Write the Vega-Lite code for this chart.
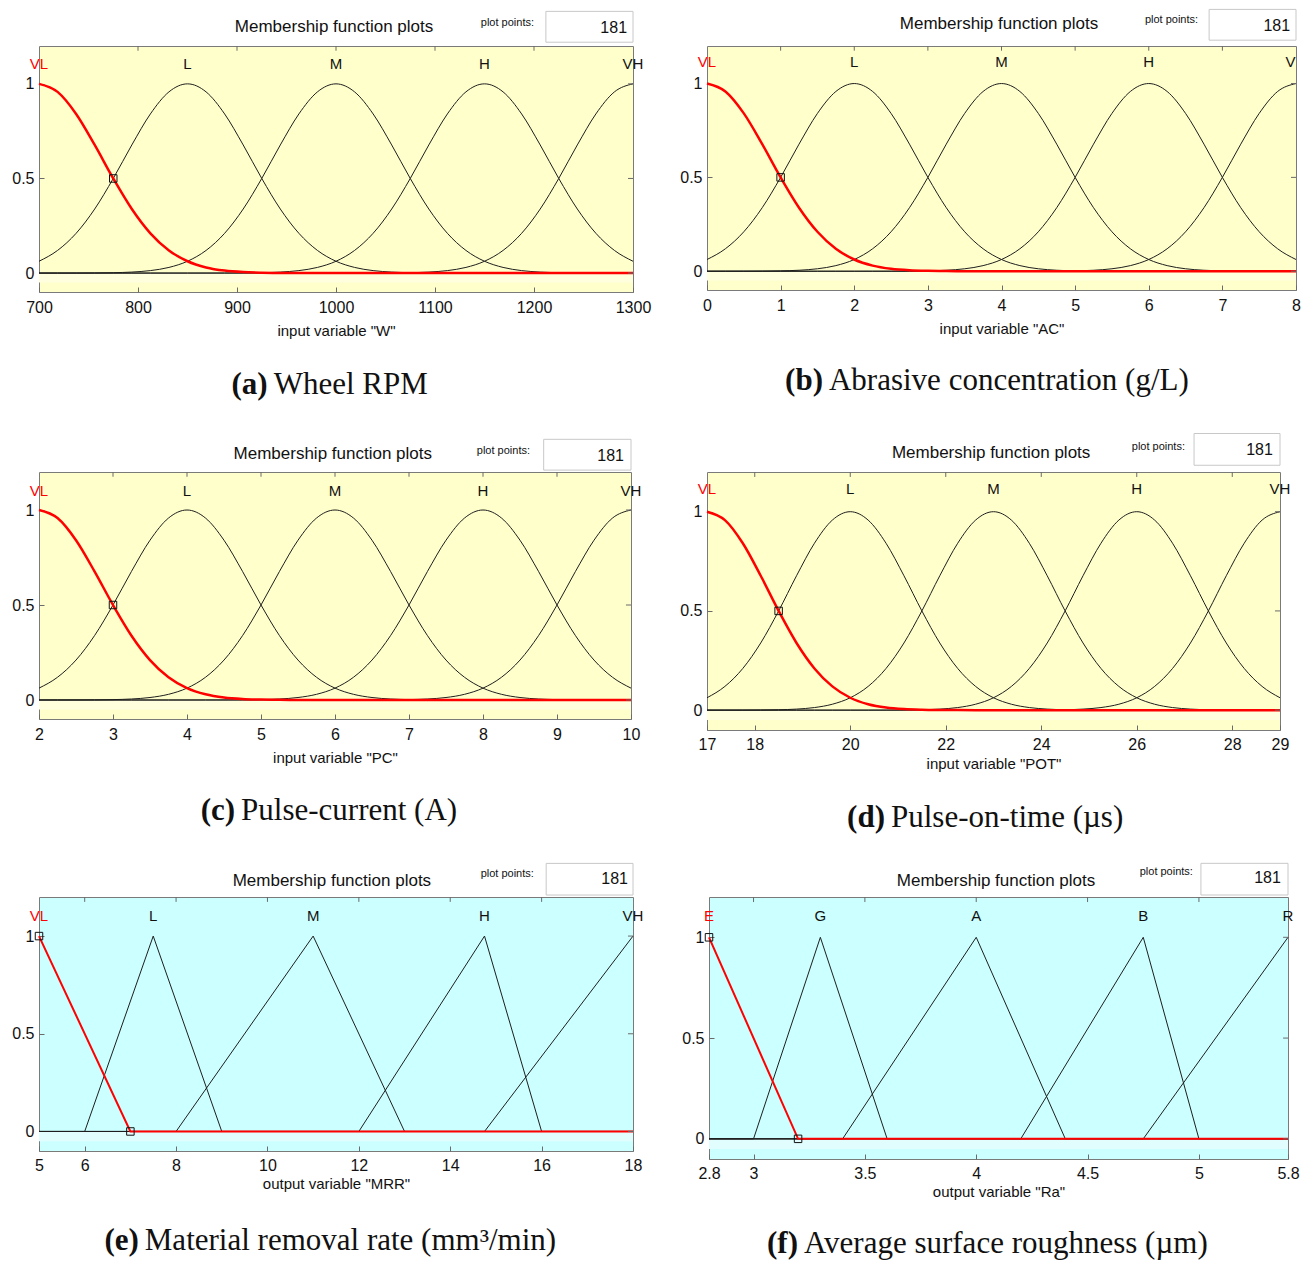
{
  "$schema": "https://vega.github.io/schema/vega-lite/v6.json",
  "padding": {"left": 11, "top": 8, "right": 0, "bottom": 0},
  "background": "#ffffff",
  "datasets": {
    "gauss": [
      {"xa":700,"xb":0,"xc":2,"xd":17,"m1":1,"m2":0.0625,"m3":0,"m4":0,"m5":0},
      {"xa":718.75,"xb":0.25,"xc":2.25,"xd":17.375,"m1":0.9576,"m2":0.1197,"m3":0.0001,"m4":0,"m5":0},
      {"xa":737.5,"xb":0.5,"xc":2.5,"xd":17.75,"m1":0.8409,"m2":0.2102,"m3":0.0002,"m4":0,"m5":0},
      {"xa":756.25,"xb":0.75,"xc":2.75,"xd":18.125,"m1":0.6771,"m2":0.3385,"m3":0.0007,"m4":0,"m5":0},
      {"xa":775,"xb":1,"xc":3,"xd":18.5,"m1":0.5,"m2":0.5,"m3":0.002,"m4":0,"m5":0},
      {"xa":793.75,"xb":1.25,"xc":3.25,"xd":18.875,"m1":0.3385,"m2":0.6771,"m3":0.0053,"m4":0,"m5":0},
      {"xa":812.5,"xb":1.5,"xc":3.5,"xd":19.25,"m1":0.2102,"m2":0.8409,"m3":0.0131,"m4":0,"m5":0},
      {"xa":831.25,"xb":1.75,"xc":3.75,"xd":19.625,"m1":0.1197,"m2":0.9576,"m3":0.0299,"m4":0,"m5":0},
      {"xa":850,"xb":2,"xc":4,"xd":20,"m1":0.0625,"m2":1,"m3":0.0625,"m4":0,"m5":0},
      {"xa":868.75,"xb":2.25,"xc":4.25,"xd":20.375,"m1":0.0299,"m2":0.9576,"m3":0.1197,"m4":0.0001,"m5":0},
      {"xa":887.5,"xb":2.5,"xc":4.5,"xd":20.75,"m1":0.0131,"m2":0.8409,"m3":0.2102,"m4":0.0002,"m5":0},
      {"xa":906.25,"xb":2.75,"xc":4.75,"xd":21.125,"m1":0.0053,"m2":0.6771,"m3":0.3385,"m4":0.0007,"m5":0},
      {"xa":925,"xb":3,"xc":5,"xd":21.5,"m1":0.002,"m2":0.5,"m3":0.5,"m4":0.002,"m5":0},
      {"xa":943.75,"xb":3.25,"xc":5.25,"xd":21.875,"m1":0.0007,"m2":0.3385,"m3":0.6771,"m4":0.0053,"m5":0},
      {"xa":962.5,"xb":3.5,"xc":5.5,"xd":22.25,"m1":0.0002,"m2":0.2102,"m3":0.8409,"m4":0.0131,"m5":0},
      {"xa":981.25,"xb":3.75,"xc":5.75,"xd":22.625,"m1":0.0001,"m2":0.1197,"m3":0.9576,"m4":0.0299,"m5":0},
      {"xa":1000,"xb":4,"xc":6,"xd":23,"m1":0,"m2":0.0625,"m3":1,"m4":0.0625,"m5":0},
      {"xa":1018.75,"xb":4.25,"xc":6.25,"xd":23.375,"m1":0,"m2":0.0299,"m3":0.9576,"m4":0.1197,"m5":0.0001},
      {"xa":1037.5,"xb":4.5,"xc":6.5,"xd":23.75,"m1":0,"m2":0.0131,"m3":0.8409,"m4":0.2102,"m5":0.0002},
      {"xa":1056.25,"xb":4.75,"xc":6.75,"xd":24.125,"m1":0,"m2":0.0053,"m3":0.6771,"m4":0.3385,"m5":0.0007},
      {"xa":1075,"xb":5,"xc":7,"xd":24.5,"m1":0,"m2":0.002,"m3":0.5,"m4":0.5,"m5":0.002},
      {"xa":1093.75,"xb":5.25,"xc":7.25,"xd":24.875,"m1":0,"m2":0.0007,"m3":0.3385,"m4":0.6771,"m5":0.0053},
      {"xa":1112.5,"xb":5.5,"xc":7.5,"xd":25.25,"m1":0,"m2":0.0002,"m3":0.2102,"m4":0.8409,"m5":0.0131},
      {"xa":1131.25,"xb":5.75,"xc":7.75,"xd":25.625,"m1":0,"m2":0.0001,"m3":0.1197,"m4":0.9576,"m5":0.0299},
      {"xa":1150,"xb":6,"xc":8,"xd":26,"m1":0,"m2":0,"m3":0.0625,"m4":1,"m5":0.0625},
      {"xa":1168.75,"xb":6.25,"xc":8.25,"xd":26.375,"m1":0,"m2":0,"m3":0.0299,"m4":0.9576,"m5":0.1197},
      {"xa":1187.5,"xb":6.5,"xc":8.5,"xd":26.75,"m1":0,"m2":0,"m3":0.0131,"m4":0.8409,"m5":0.2102},
      {"xa":1206.25,"xb":6.75,"xc":8.75,"xd":27.125,"m1":0,"m2":0,"m3":0.0053,"m4":0.6771,"m5":0.3385},
      {"xa":1225,"xb":7,"xc":9,"xd":27.5,"m1":0,"m2":0,"m3":0.002,"m4":0.5,"m5":0.5},
      {"xa":1243.75,"xb":7.25,"xc":9.25,"xd":27.875,"m1":0,"m2":0,"m3":0.0007,"m4":0.3385,"m5":0.6771},
      {"xa":1262.5,"xb":7.5,"xc":9.5,"xd":28.25,"m1":0,"m2":0,"m3":0.0002,"m4":0.2102,"m5":0.8409},
      {"xa":1281.25,"xb":7.75,"xc":9.75,"xd":28.625,"m1":0,"m2":0,"m3":0.0001,"m4":0.1197,"m5":0.9576},
      {"xa":1300,"xb":8,"xc":10,"xd":29,"m1":0,"m2":0,"m3":0,"m4":0.0625,"m5":1}
    ],
    "mrr": [
      {"x":5,"mf":"m1","mu":1},{"x":7,"mf":"m1","mu":0},{"x":18,"mf":"m1","mu":0},
      {"x":5,"mf":"m2","mu":0},{"x":6,"mf":"m2","mu":0},{"x":7.5,"mf":"m2","mu":1},{"x":9,"mf":"m2","mu":0},{"x":18,"mf":"m2","mu":0},
      {"x":5,"mf":"m3","mu":0},{"x":8,"mf":"m3","mu":0},{"x":11,"mf":"m3","mu":1},{"x":13,"mf":"m3","mu":0},{"x":18,"mf":"m3","mu":0},
      {"x":5,"mf":"m4","mu":0},{"x":12,"mf":"m4","mu":0},{"x":14.75,"mf":"m4","mu":1},{"x":16,"mf":"m4","mu":0},{"x":18,"mf":"m4","mu":0},
      {"x":5,"mf":"m5","mu":0},{"x":14.75,"mf":"m5","mu":0},{"x":18,"mf":"m5","mu":1}
    ],
    "ra": [
      {"x":2.8,"mf":"m1","mu":1},{"x":3.2,"mf":"m1","mu":0},{"x":5.4,"mf":"m1","mu":0},
      {"x":2.8,"mf":"m2","mu":0},{"x":3,"mf":"m2","mu":0},{"x":3.3,"mf":"m2","mu":1},{"x":3.6,"mf":"m2","mu":0},{"x":5.4,"mf":"m2","mu":0},
      {"x":2.8,"mf":"m3","mu":0},{"x":3.4,"mf":"m3","mu":0},{"x":4,"mf":"m3","mu":1},{"x":4.4,"mf":"m3","mu":0},{"x":5.4,"mf":"m3","mu":0},
      {"x":2.8,"mf":"m4","mu":0},{"x":4.2,"mf":"m4","mu":0},{"x":4.75,"mf":"m4","mu":1},{"x":5,"mf":"m4","mu":0},{"x":5.4,"mf":"m4","mu":0},
      {"x":2.8,"mf":"m5","mu":0},{"x":4.75,"mf":"m5","mu":0},{"x":5.4,"mf":"m5","mu":1}
    ],
    "yticks": [{"v": 0}, {"v": 0.5}, {"v": 1}]
  },
  "vconcat": [
    {
      "hconcat": [
        {
          "width": 594, "height": 246,
          "view": {"fill": "#FFFFCC"},
          "layer": [
            {"data": {"values": [{}]}, "mark": {"type": "rect", "fill": "#FFFFDD"},
             "encoding": {"x": {"datum": 700, "type": "quantitative", "scale": {"domain": [700, 1300]}}, "x2": {"datum": 1300},
                          "y": {"datum": -0.05, "type": "quantitative", "scale": {"domain": [-0.05, 1.2]}}, "y2": {"datum": 0}}},
            {"data": {"name": "gauss"}, "transform": [{"fold": ["m2", "m3", "m4", "m5"], "as": ["mf", "mu"]}],
             "mark": {"type": "line", "interpolate": "monotone", "color": "#1e1e1e", "strokeWidth": 1},
             "encoding": {"x": {"field": "xa", "type": "quantitative", "axis": {"values": [700, 800, 900, 1000, 1100, 1200, 1300], "format": "d", "labelPadding": 12, "title": "input variable \"W\"", "titlePadding": 8}},
                          "y": {"field": "mu", "type": "quantitative", "axis": {"values": [0, 0.5, 1], "format": "~g", "labelPadding": 10, "title": null}},
                          "detail": {"field": "mf"}}},
            {"data": {"name": "gauss"},
             "mark": {"type": "line", "interpolate": "monotone", "color": "#ff0000", "strokeWidth": 2.5},
             "encoding": {"x": {"field": "xa", "type": "quantitative"}, "y": {"field": "m1", "type": "quantitative"}}},
            {"data": {"values": [{"v": 800}, {"v": 900}, {"v": 1000}, {"v": 1100}, {"v": 1200}]},
             "mark": {"type": "rule", "color": "#6a6a6a", "strokeWidth": 1},
             "encoding": {"x": {"field": "v", "type": "quantitative"}, "y": {"datum": 1.2, "type": "quantitative"}, "y2": {"datum": 1.175}}},
            {"data": {"name": "yticks"},
             "mark": {"type": "rule", "color": "#6a6a6a", "strokeWidth": 1},
             "encoding": {"y": {"field": "v", "type": "quantitative"}, "x": {"datum": 1300, "type": "quantitative"}, "x2": {"datum": 1294.95}}},
            {"data": {"values": [{"x": 775, "mu": 0.5}]},
             "mark": {"type": "point", "shape": "square", "filled": false, "size": 56, "color": "#111111", "strokeWidth": 1, "opacity": 1},
             "encoding": {"x": {"field": "x", "type": "quantitative"}, "y": {"field": "mu", "type": "quantitative"}}},
            {"data": {"values": [{"x": 700, "t": "VL", "k": 1}, {"x": 850, "t": "L", "k": 2}, {"x": 1000, "t": "M", "k": 3}, {"x": 1150, "t": "H", "k": 4}, {"x": 1300, "t": "VH", "k": 5}]},
             "mark": {"type": "text", "fontSize": 15, "baseline": "middle"},
             "encoding": {"x": {"field": "x", "type": "quantitative"}, "y": {"datum": 1.103, "type": "quantitative"}, "text": {"field": "t"},
                          "color": {"condition": {"test": "datum.k == 1", "value": "#ff0000"}, "value": "#111111"}}},
            {"data": {"values": [{}]}, "mark": {"type": "text", "text": "Membership function plots", "align": "center", "baseline": "middle", "fontSize": 17},
             "encoding": {"x": {"datum": 998, "type": "quantitative"}, "y": {"datum": 1.302, "type": "quantitative"}}},
            {"data": {"values": [{}]}, "mark": {"type": "rect", "fill": "#ffffff", "stroke": "#c8c8c8", "strokeWidth": 1},
             "encoding": {"x": {"datum": 1212, "type": "quantitative"}, "x2": {"datum": 1300}, "y": {"datum": 1.22, "type": "quantitative"}, "y2": {"datum": 1.383}}},
            {"data": {"values": [{}]}, "mark": {"type": "text", "text": "181", "align": "right", "baseline": "middle", "fontSize": 16},
             "encoding": {"x": {"datum": 1294, "type": "quantitative"}, "y": {"datum": 1.297, "type": "quantitative"}}},
            {"data": {"values": [{}]}, "mark": {"type": "text", "text": "plot points:", "align": "right", "baseline": "middle", "fontSize": 11, "letterSpacing": -0.3},
             "encoding": {"x": {"datum": 1200, "type": "quantitative"}, "y": {"datum": 1.322, "type": "quantitative"}}},
            {"data": {"values": [{}]}, "mark": {"type": "text", "text": "(a)", "align": "right", "baseline": "middle", "dx": -3, "font": "Liberation Serif", "fontWeight": "bold", "fontSize": 31},
             "encoding": {"x": {"datum": 934, "type": "quantitative"}, "y": {"datum": -0.589, "type": "quantitative"}}},
            {"data": {"values": [{}]}, "mark": {"type": "text", "text": "Wheel RPM", "align": "left", "baseline": "middle", "dx": 3, "font": "Liberation Serif", "fontSize": 31},
             "encoding": {"x": {"datum": 934, "type": "quantitative"}, "y": {"datum": -0.589, "type": "quantitative"}}}
          ]
        },
        {
          "width": 589, "height": 244,
          "view": {"fill": "#FFFFCC"},
          "layer": [
            {"data": {"values": [{}]}, "mark": {"type": "rect", "fill": "#FFFFDD"},
             "encoding": {"x": {"datum": 0, "type": "quantitative", "scale": {"domain": [0, 8]}}, "x2": {"datum": 8},
                          "y": {"datum": -0.05, "type": "quantitative", "scale": {"domain": [-0.05, 1.2]}}, "y2": {"datum": 0}}},
            {"data": {"name": "gauss"}, "transform": [{"fold": ["m2", "m3", "m4", "m5"], "as": ["mf", "mu"]}],
             "mark": {"type": "line", "interpolate": "monotone", "color": "#1e1e1e", "strokeWidth": 1},
             "encoding": {"x": {"field": "xb", "type": "quantitative", "axis": {"values": [0, 1, 2, 3, 4, 5, 6, 7, 8], "format": "~g", "labelPadding": 12, "title": "input variable \"AC\"", "titlePadding": 8}},
                          "y": {"field": "mu", "type": "quantitative", "axis": {"values": [0, 0.5, 1], "format": "~g", "labelPadding": 10, "title": null}},
                          "detail": {"field": "mf"}}},
            {"data": {"name": "gauss"},
             "mark": {"type": "line", "interpolate": "monotone", "color": "#ff0000", "strokeWidth": 2.5},
             "encoding": {"x": {"field": "xb", "type": "quantitative"}, "y": {"field": "m1", "type": "quantitative"}}},
            {"data": {"values": [{"v": 1}, {"v": 2}, {"v": 3}, {"v": 4}, {"v": 5}, {"v": 6}, {"v": 7}]},
             "mark": {"type": "rule", "color": "#6a6a6a", "strokeWidth": 1},
             "encoding": {"x": {"field": "v", "type": "quantitative"}, "y": {"datum": 1.2, "type": "quantitative"}, "y2": {"datum": 1.175}}},
            {"data": {"name": "yticks"},
             "mark": {"type": "rule", "color": "#6a6a6a", "strokeWidth": 1},
             "encoding": {"y": {"field": "v", "type": "quantitative"}, "x": {"datum": 8, "type": "quantitative"}, "x2": {"datum": 7.932}}},
            {"data": {"values": [{"x": 1, "mu": 0.5}]},
             "mark": {"type": "point", "shape": "square", "filled": false, "size": 56, "color": "#111111", "strokeWidth": 1, "opacity": 1},
             "encoding": {"x": {"field": "x", "type": "quantitative"}, "y": {"field": "mu", "type": "quantitative"}}},
            {"data": {"values": [{"x": 0, "t": "VL", "k": 1}, {"x": 2, "t": "L", "k": 2}, {"x": 4, "t": "M", "k": 3}, {"x": 6, "t": "H", "k": 4}]},
             "mark": {"type": "text", "fontSize": 15, "baseline": "middle"},
             "encoding": {"x": {"field": "x", "type": "quantitative"}, "y": {"datum": 1.113, "type": "quantitative"}, "text": {"field": "t"},
                          "color": {"condition": {"test": "datum.k == 1", "value": "#ff0000"}, "value": "#111111"}}},
            {"data": {"values": [{"x": 8, "t": "VH", "k": 5}]},
             "mark": {"type": "text", "fontSize": 15, "baseline": "middle", "clip": true, "color": "#111111"},
             "encoding": {"x": {"field": "x", "type": "quantitative"}, "y": {"datum": 1.113, "type": "quantitative"}, "text": {"field": "t"}}},
            {"data": {"values": [{}]}, "mark": {"type": "text", "text": "Membership function plots", "align": "center", "baseline": "middle", "fontSize": 17},
             "encoding": {"x": {"datum": 3.966, "type": "quantitative"}, "y": {"datum": 1.318, "type": "quantitative"}}},
            {"data": {"values": [{}]}, "mark": {"type": "rect", "fill": "#ffffff", "stroke": "#c8c8c8", "strokeWidth": 1},
             "encoding": {"x": {"datum": 6.82, "type": "quantitative"}, "x2": {"datum": 8}, "y": {"datum": 1.231, "type": "quantitative"}, "y2": {"datum": 1.395}}},
            {"data": {"values": [{}]}, "mark": {"type": "text", "text": "181", "align": "right", "baseline": "middle", "fontSize": 16},
             "encoding": {"x": {"datum": 7.92, "type": "quantitative"}, "y": {"datum": 1.308, "type": "quantitative"}}},
            {"data": {"values": [{}]}, "mark": {"type": "text", "text": "plot points:", "align": "right", "baseline": "middle", "fontSize": 11, "letterSpacing": -0.3},
             "encoding": {"x": {"datum": 6.67, "type": "quantitative"}, "y": {"datum": 1.338, "type": "quantitative"}}},
            {"data": {"values": [{}]}, "mark": {"type": "text", "text": "(b)", "align": "right", "baseline": "middle", "dx": -3, "font": "Liberation Serif", "fontWeight": "bold", "fontSize": 31},
             "encoding": {"x": {"datum": 1.616, "type": "quantitative"}, "y": {"datum": -0.587, "type": "quantitative"}}},
            {"data": {"values": [{}]}, "mark": {"type": "text", "text": "Abrasive concentration (g/L)", "align": "left", "baseline": "middle", "dx": 3, "font": "Liberation Serif", "fontSize": 31},
             "encoding": {"x": {"datum": 1.616, "type": "quantitative"}, "y": {"datum": -0.587, "type": "quantitative"}}}
          ]
        }
      ],
      "spacing": 74,
      "bounds": "flush"
    },
    {
      "vconcat": [
        {
          "hconcat": [
            {
              "width": 592, "height": 247,
              "view": {"fill": "#FFFFCC"},
              "layer": [
                {"data": {"values": [{}]}, "mark": {"type": "rect", "fill": "#FFFFDD"},
                 "encoding": {"x": {"datum": 2, "type": "quantitative", "scale": {"domain": [2, 10]}}, "x2": {"datum": 10},
                              "y": {"datum": -0.05, "type": "quantitative", "scale": {"domain": [-0.05, 1.2]}}, "y2": {"datum": 0}}},
                {"data": {"name": "gauss"}, "transform": [{"fold": ["m2", "m3", "m4", "m5"], "as": ["mf", "mu"]}],
                 "mark": {"type": "line", "interpolate": "monotone", "color": "#1e1e1e", "strokeWidth": 1},
                 "encoding": {"x": {"field": "xc", "type": "quantitative", "axis": {"values": [2, 3, 4, 5, 6, 7, 8, 9, 10], "format": "~g", "labelPadding": 12, "title": "input variable \"PC\"", "titlePadding": 8}},
                              "y": {"field": "mu", "type": "quantitative", "axis": {"values": [0, 0.5, 1], "format": "~g", "labelPadding": 10, "title": null}},
                              "detail": {"field": "mf"}}},
                {"data": {"name": "gauss"},
                 "mark": {"type": "line", "interpolate": "monotone", "color": "#ff0000", "strokeWidth": 2.5},
                 "encoding": {"x": {"field": "xc", "type": "quantitative"}, "y": {"field": "m1", "type": "quantitative"}}},
                {"data": {"values": [{"v": 3}, {"v": 4}, {"v": 5}, {"v": 6}, {"v": 7}, {"v": 8}, {"v": 9}]},
                 "mark": {"type": "rule", "color": "#6a6a6a", "strokeWidth": 1},
                 "encoding": {"x": {"field": "v", "type": "quantitative"}, "y": {"datum": 1.2, "type": "quantitative"}, "y2": {"datum": 1.175}}},
                {"data": {"name": "yticks"},
                 "mark": {"type": "rule", "color": "#6a6a6a", "strokeWidth": 1},
                 "encoding": {"y": {"field": "v", "type": "quantitative"}, "x": {"datum": 10, "type": "quantitative"}, "x2": {"datum": 9.932}}},
                {"data": {"values": [{"x": 3, "mu": 0.5}]},
                 "mark": {"type": "point", "shape": "square", "filled": false, "size": 56, "color": "#111111", "strokeWidth": 1, "opacity": 1},
                 "encoding": {"x": {"field": "x", "type": "quantitative"}, "y": {"field": "mu", "type": "quantitative"}}},
                {"data": {"values": [{"x": 2, "t": "VL", "k": 1}, {"x": 4, "t": "L", "k": 2}, {"x": 6, "t": "M", "k": 3}, {"x": 8, "t": "H", "k": 4}, {"x": 10, "t": "VH", "k": 5}]},
                 "mark": {"type": "text", "fontSize": 15, "baseline": "middle"},
                 "encoding": {"x": {"field": "x", "type": "quantitative"}, "y": {"datum": 1.099, "type": "quantitative"}, "text": {"field": "t"},
                              "color": {"condition": {"test": "datum.k == 1", "value": "#ff0000"}, "value": "#111111"}}},
                {"data": {"values": [{}]}, "mark": {"type": "text", "text": "Membership function plots", "align": "center", "baseline": "middle", "fontSize": 17},
                 "encoding": {"x": {"datum": 5.97, "type": "quantitative"}, "y": {"datum": 1.296, "type": "quantitative"}}},
                {"data": {"values": [{}]}, "mark": {"type": "rect", "fill": "#ffffff", "stroke": "#c8c8c8", "strokeWidth": 1},
                 "encoding": {"x": {"datum": 8.82, "type": "quantitative"}, "x2": {"datum": 10}, "y": {"datum": 1.21, "type": "quantitative"}, "y2": {"datum": 1.372}}},
                {"data": {"values": [{}]}, "mark": {"type": "text", "text": "181", "align": "right", "baseline": "middle", "fontSize": 16},
                 "encoding": {"x": {"datum": 9.905, "type": "quantitative"}, "y": {"datum": 1.286, "type": "quantitative"}}},
                {"data": {"values": [{}]}, "mark": {"type": "text", "text": "plot points:", "align": "right", "baseline": "middle", "fontSize": 11, "letterSpacing": -0.3},
                 "encoding": {"x": {"datum": 8.635, "type": "quantitative"}, "y": {"datum": 1.311, "type": "quantitative"}}},
                {"data": {"values": [{}]}, "mark": {"type": "text", "text": "(c)", "align": "right", "baseline": "middle", "dx": -3, "font": "Liberation Serif", "fontWeight": "bold", "fontSize": 31},
                 "encoding": {"x": {"datum": 4.69, "type": "quantitative"}, "y": {"datum": -0.582, "type": "quantitative"}}},
                {"data": {"values": [{}]}, "mark": {"type": "text", "text": "Pulse-current (A)", "align": "left", "baseline": "middle", "dx": 3, "font": "Liberation Serif", "fontSize": 31},
                 "encoding": {"x": {"datum": 4.69, "type": "quantitative"}, "y": {"datum": -0.582, "type": "quantitative"}}}
              ]
            },
            {
              "width": 573, "height": 258,
              "view": {"fill": "#FFFFCC"},
              "layer": [
                {"data": {"values": [{}]}, "mark": {"type": "rect", "fill": "#FFFFDD"},
                 "encoding": {"x": {"datum": 17, "type": "quantitative", "scale": {"domain": [17, 29]}}, "x2": {"datum": 29},
                              "y": {"datum": -0.05, "type": "quantitative", "scale": {"domain": [-0.05, 1.2]}}, "y2": {"datum": 0}}},
                {"data": {"name": "gauss"}, "transform": [{"fold": ["m2", "m3", "m4", "m5"], "as": ["mf", "mu"]}],
                 "mark": {"type": "line", "interpolate": "monotone", "color": "#1e1e1e", "strokeWidth": 1},
                 "encoding": {"x": {"field": "xd", "type": "quantitative", "axis": {"values": [17, 18, 20, 22, 24, 26, 28, 29], "format": "~g", "labelPadding": 11, "title": "input variable \"POT\"", "titlePadding": 4}},
                              "y": {"field": "mu", "type": "quantitative", "axis": {"values": [0, 0.5, 1], "format": "~g", "labelPadding": 10, "title": null}},
                              "detail": {"field": "mf"}}},
                {"data": {"name": "gauss"},
                 "mark": {"type": "line", "interpolate": "monotone", "color": "#ff0000", "strokeWidth": 2.5},
                 "encoding": {"x": {"field": "xd", "type": "quantitative"}, "y": {"field": "m1", "type": "quantitative"}}},
                {"data": {"values": [{"v": 18}, {"v": 20}, {"v": 22}, {"v": 24}, {"v": 26}, {"v": 28}]},
                 "mark": {"type": "rule", "color": "#6a6a6a", "strokeWidth": 1},
                 "encoding": {"x": {"field": "v", "type": "quantitative"}, "y": {"datum": 1.2, "type": "quantitative"}, "y2": {"datum": 1.175}}},
                {"data": {"name": "yticks"},
                 "mark": {"type": "rule", "color": "#6a6a6a", "strokeWidth": 1},
                 "encoding": {"y": {"field": "v", "type": "quantitative"}, "x": {"datum": 29, "type": "quantitative"}, "x2": {"datum": 28.895}}},
                {"data": {"values": [{"x": 18.5, "mu": 0.5}]},
                 "mark": {"type": "point", "shape": "square", "filled": false, "size": 56, "color": "#111111", "strokeWidth": 1, "opacity": 1},
                 "encoding": {"x": {"field": "x", "type": "quantitative"}, "y": {"field": "mu", "type": "quantitative"}}},
                {"data": {"values": [{"x": 17, "t": "VL", "k": 1}, {"x": 20, "t": "L", "k": 2}, {"x": 23, "t": "M", "k": 3}, {"x": 26, "t": "H", "k": 4}, {"x": 29, "t": "VH", "k": 5}]},
                 "mark": {"type": "text", "fontSize": 15, "baseline": "middle"},
                 "encoding": {"x": {"field": "x", "type": "quantitative"}, "y": {"datum": 1.113, "type": "quantitative"}, "text": {"field": "t"},
                              "color": {"condition": {"test": "datum.k == 1", "value": "#ff0000"}, "value": "#111111"}}},
                {"data": {"values": [{}]}, "mark": {"type": "text", "text": "Membership function plots", "align": "center", "baseline": "middle", "fontSize": 17},
                 "encoding": {"x": {"datum": 22.95, "type": "quantitative"}, "y": {"datum": 1.297, "type": "quantitative"}}},
                {"data": {"values": [{}]}, "mark": {"type": "rect", "fill": "#ffffff", "stroke": "#c8c8c8", "strokeWidth": 1},
                 "encoding": {"x": {"datum": 27.2, "type": "quantitative"}, "x2": {"datum": 29}, "y": {"datum": 1.234, "type": "quantitative"}, "y2": {"datum": 1.394}}},
                {"data": {"values": [{}]}, "mark": {"type": "text", "text": "181", "align": "right", "baseline": "middle", "fontSize": 16},
                 "encoding": {"x": {"datum": 28.85, "type": "quantitative"}, "y": {"datum": 1.311, "type": "quantitative"}}},
                {"data": {"values": [{}]}, "mark": {"type": "text", "text": "plot points:", "align": "right", "baseline": "middle", "fontSize": 11, "letterSpacing": -0.3},
                 "encoding": {"x": {"datum": 27.01, "type": "quantitative"}, "y": {"datum": 1.326, "type": "quantitative"}}},
                {"data": {"values": [{}]}, "mark": {"type": "text", "text": "(d)", "align": "right", "baseline": "middle", "dx": -3, "font": "Liberation Serif", "fontWeight": "bold", "fontSize": 31},
                 "encoding": {"x": {"datum": 20.79, "type": "quantitative"}, "y": {"datum": -0.544, "type": "quantitative"}}},
                {"data": {"values": [{}]}, "mark": {"type": "text", "text": "Pulse-on-time (µs)", "align": "left", "baseline": "middle", "dx": 3, "font": "Liberation Serif", "fontSize": 31},
                 "encoding": {"x": {"datum": 20.79, "type": "quantitative"}, "y": {"datum": -0.544, "type": "quantitative"}}}
              ]
            }
          ],
          "spacing": 76,
          "bounds": "flush"
        },
        {
          "hconcat": [
            {
              "width": 594, "height": 254,
              "view": {"fill": "#CCFFFF"},
              "layer": [
                {"data": {"values": [{}]}, "mark": {"type": "rect", "fill": "#E2FDFD"},
                 "encoding": {"x": {"datum": 5, "type": "quantitative", "scale": {"domain": [5, 18]}}, "x2": {"datum": 18},
                              "y": {"datum": -0.05, "type": "quantitative", "scale": {"domain": [-0.05, 1.2]}}, "y2": {"datum": 0}}},
                {"data": {"name": "mrr"}, "transform": [{"filter": "datum.mf != 'm1'"}],
                 "mark": {"type": "line", "color": "#1e1e1e", "strokeWidth": 1},
                 "encoding": {"x": {"field": "x", "type": "quantitative", "axis": {"values": [5, 6, 8, 10, 12, 14, 16, 18], "format": "~g", "labelPadding": 11, "title": "output variable \"MRR\"", "titlePadding": 3}},
                              "y": {"field": "mu", "type": "quantitative", "axis": {"values": [0, 0.5, 1], "format": "~g", "labelPadding": 10, "title": null}},
                              "detail": {"field": "mf"}}},
                {"data": {"name": "mrr"}, "transform": [{"filter": "datum.mf == 'm1'"}],
                 "mark": {"type": "line", "color": "#ff0000", "strokeWidth": 2},
                 "encoding": {"x": {"field": "x", "type": "quantitative"}, "y": {"field": "mu", "type": "quantitative"}}},
                {"data": {"values": [{"v": 6}, {"v": 8}, {"v": 10}, {"v": 12}, {"v": 14}, {"v": 16}]},
                 "mark": {"type": "rule", "color": "#6a6a6a", "strokeWidth": 1},
                 "encoding": {"x": {"field": "v", "type": "quantitative"}, "y": {"datum": 1.2, "type": "quantitative"}, "y2": {"datum": 1.175}}},
                {"data": {"name": "yticks"},
                 "mark": {"type": "rule", "color": "#6a6a6a", "strokeWidth": 1},
                 "encoding": {"y": {"field": "v", "type": "quantitative"}, "x": {"datum": 18, "type": "quantitative"}, "x2": {"datum": 17.89}}},
                {"data": {"values": [{"x": 5, "mu": 1}, {"x": 7, "mu": 0}]},
                 "mark": {"type": "point", "shape": "square", "filled": false, "size": 56, "color": "#111111", "strokeWidth": 1, "opacity": 1},
                 "encoding": {"x": {"field": "x", "type": "quantitative"}, "y": {"field": "mu", "type": "quantitative"}}},
                {"data": {"values": [{"x": 5, "t": "VL", "k": 1}, {"x": 7.5, "t": "L", "k": 2}, {"x": 11, "t": "M", "k": 3}, {"x": 14.75, "t": "H", "k": 4}, {"x": 18, "t": "VH", "k": 5}]},
                 "mark": {"type": "text", "fontSize": 15, "baseline": "middle"},
                 "encoding": {"x": {"field": "x", "type": "quantitative"}, "y": {"datum": 1.102, "type": "quantitative"}, "text": {"field": "t"},
                              "color": {"condition": {"test": "datum.k == 1", "value": "#ff0000"}, "value": "#111111"}}},
                {"data": {"values": [{}]}, "mark": {"type": "text", "text": "Membership function plots", "align": "center", "baseline": "middle", "fontSize": 17},
                 "encoding": {"x": {"datum": 11.41, "type": "quantitative"}, "y": {"datum": 1.284, "type": "quantitative"}}},
                {"data": {"values": [{}]}, "mark": {"type": "rect", "fill": "#ffffff", "stroke": "#c8c8c8", "strokeWidth": 1},
                 "encoding": {"x": {"datum": 16.1, "type": "quantitative"}, "x2": {"datum": 18}, "y": {"datum": 1.21, "type": "quantitative"}, "y2": {"datum": 1.372}}},
                {"data": {"values": [{}]}, "mark": {"type": "text", "text": "181", "align": "right", "baseline": "middle", "fontSize": 16},
                 "encoding": {"x": {"datum": 17.89, "type": "quantitative"}, "y": {"datum": 1.294, "type": "quantitative"}}},
                {"data": {"values": [{}]}, "mark": {"type": "text", "text": "plot points:", "align": "right", "baseline": "middle", "fontSize": 11, "letterSpacing": -0.3},
                 "encoding": {"x": {"datum": 15.83, "type": "quantitative"}, "y": {"datum": 1.318, "type": "quantitative"}}},
                {"data": {"values": [{}]}, "mark": {"type": "text", "text": "(e)", "align": "right", "baseline": "middle", "dx": -3, "font": "Liberation Serif", "fontWeight": "bold", "fontSize": 31},
                 "encoding": {"x": {"datum": 7.25, "type": "quantitative"}, "y": {"datum": -0.562, "type": "quantitative"}}},
                {"data": {"values": [{}]}, "mark": {"type": "text", "text": "Material removal rate (mm³/min)", "align": "left", "baseline": "middle", "dx": 3, "font": "Liberation Serif", "fontSize": 31},
                 "encoding": {"x": {"datum": 7.25, "type": "quantitative"}, "y": {"datum": -0.562, "type": "quantitative"}}}
              ]
            },
            {
              "width": 579, "height": 262,
              "view": {"fill": "#CCFFFF"},
              "layer": [
                {"data": {"values": [{}]}, "mark": {"type": "rect", "fill": "#E2FDFD"},
                 "encoding": {"x": {"datum": 2.8, "type": "quantitative", "scale": {"domain": [2.8, 5.4]}}, "x2": {"datum": 5.4},
                              "y": {"datum": -0.05, "type": "quantitative", "scale": {"domain": [-0.05, 1.2]}}, "y2": {"datum": 0}}},
                {"data": {"name": "ra"}, "transform": [{"filter": "datum.mf != 'm1'"}],
                 "mark": {"type": "line", "color": "#1e1e1e", "strokeWidth": 1},
                 "encoding": {"x": {"field": "x", "type": "quantitative", "axis": {"values": [2.8, 3, 3.5, 4, 4.5, 5, 5.4], "format": "~g", "labelExpr": "datum.value == 5.4 ? '5.8' : datum.label", "labelPadding": 11, "title": "output variable \"Ra\"", "titlePadding": 3}},
                              "y": {"field": "mu", "type": "quantitative", "axis": {"values": [0, 0.5, 1], "format": "~g", "labelPadding": 10, "title": null}},
                              "detail": {"field": "mf"}}},
                {"data": {"name": "ra"}, "transform": [{"filter": "datum.mf == 'm1'"}],
                 "mark": {"type": "line", "color": "#ff0000", "strokeWidth": 2},
                 "encoding": {"x": {"field": "x", "type": "quantitative"}, "y": {"field": "mu", "type": "quantitative"}}},
                {"data": {"values": [{"v": 3}, {"v": 3.5}, {"v": 4}, {"v": 4.5}, {"v": 5}]},
                 "mark": {"type": "rule", "color": "#6a6a6a", "strokeWidth": 1},
                 "encoding": {"x": {"field": "v", "type": "quantitative"}, "y": {"datum": 1.2, "type": "quantitative"}, "y2": {"datum": 1.175}}},
                {"data": {"name": "yticks"},
                 "mark": {"type": "rule", "color": "#6a6a6a", "strokeWidth": 1},
                 "encoding": {"y": {"field": "v", "type": "quantitative"}, "x": {"datum": 5.4, "type": "quantitative"}, "x2": {"datum": 5.378}}},
                {"data": {"values": [{"x": 2.8, "mu": 1}, {"x": 3.2, "mu": 0}]},
                 "mark": {"type": "point", "shape": "square", "filled": false, "size": 56, "color": "#111111", "strokeWidth": 1, "opacity": 1},
                 "encoding": {"x": {"field": "x", "type": "quantitative"}, "y": {"field": "mu", "type": "quantitative"}}},
                {"data": {"values": [{"x": 2.8, "t": "E", "k": 1}, {"x": 3.3, "t": "G", "k": 2}, {"x": 4, "t": "A", "k": 3}, {"x": 4.75, "t": "B", "k": 4}, {"x": 5.4, "t": "R", "k": 5}]},
                 "mark": {"type": "text", "fontSize": 15, "baseline": "middle"},
                 "encoding": {"x": {"field": "x", "type": "quantitative"}, "y": {"datum": 1.105, "type": "quantitative"}, "text": {"field": "t"},
                              "color": {"condition": {"test": "datum.k == 1", "value": "#ff0000"}, "value": "#111111"}}},
                {"data": {"values": [{}]}, "mark": {"type": "text", "text": "Membership function plots", "align": "center", "baseline": "middle", "fontSize": 17},
                 "encoding": {"x": {"datum": 4.089, "type": "quantitative"}, "y": {"datum": 1.281, "type": "quantitative"}}},
                {"data": {"values": [{}]}, "mark": {"type": "rect", "fill": "#ffffff", "stroke": "#c8c8c8", "strokeWidth": 1},
                 "encoding": {"x": {"datum": 5.009, "type": "quantitative"}, "x2": {"datum": 5.4}, "y": {"datum": 1.21, "type": "quantitative"}, "y2": {"datum": 1.367}}},
                {"data": {"values": [{}]}, "mark": {"type": "text", "text": "181", "align": "right", "baseline": "middle", "fontSize": 16},
                 "encoding": {"x": {"datum": 5.368, "type": "quantitative"}, "y": {"datum": 1.295, "type": "quantitative"}}},
                {"data": {"values": [{}]}, "mark": {"type": "text", "text": "plot points:", "align": "right", "baseline": "middle", "fontSize": 11, "letterSpacing": -0.3},
                 "encoding": {"x": {"datum": 4.973, "type": "quantitative"}, "y": {"datum": 1.324, "type": "quantitative"}}},
                {"data": {"values": [{}]}, "mark": {"type": "text", "text": "(f)", "align": "right", "baseline": "middle", "dx": -3, "font": "Liberation Serif", "fontWeight": "bold", "fontSize": 31},
                 "encoding": {"x": {"datum": 3.213, "type": "quantitative"}, "y": {"datum": -0.522, "type": "quantitative"}}},
                {"data": {"values": [{}]}, "mark": {"type": "text", "text": "Average surface roughness (µm)", "align": "left", "baseline": "middle", "dx": 3, "font": "Liberation Serif", "fontSize": 31},
                 "encoding": {"x": {"datum": 3.213, "type": "quantitative"}, "y": {"datum": -0.522, "type": "quantitative"}}}
              ]
            }
          ],
          "spacing": 76,
          "bounds": "flush"
        }
      ],
      "spacing": 425,
      "bounds": "flush"
    }
  ],
  "spacing": 426,
  "bounds": "flush",
  "config": {
    "font": "Liberation Sans",
    "view": {"stroke": "#7a7a7a", "strokeWidth": 1},
    "axis": {"grid": false, "domain": false, "labelFont": "Liberation Sans", "labelFontSize": 16, "labelColor": "#111111", "titleFont": "Liberation Sans", "titleFontSize": 15, "titleFontWeight": "normal", "titleColor": "#111111", "tickColor": "#6a6a6a", "tickSize": -5, "tickWidth": 1, "labelFlush": false, "labelOverlap": false},
    "text": {"font": "Liberation Sans", "color": "#111111"}
  }
}
